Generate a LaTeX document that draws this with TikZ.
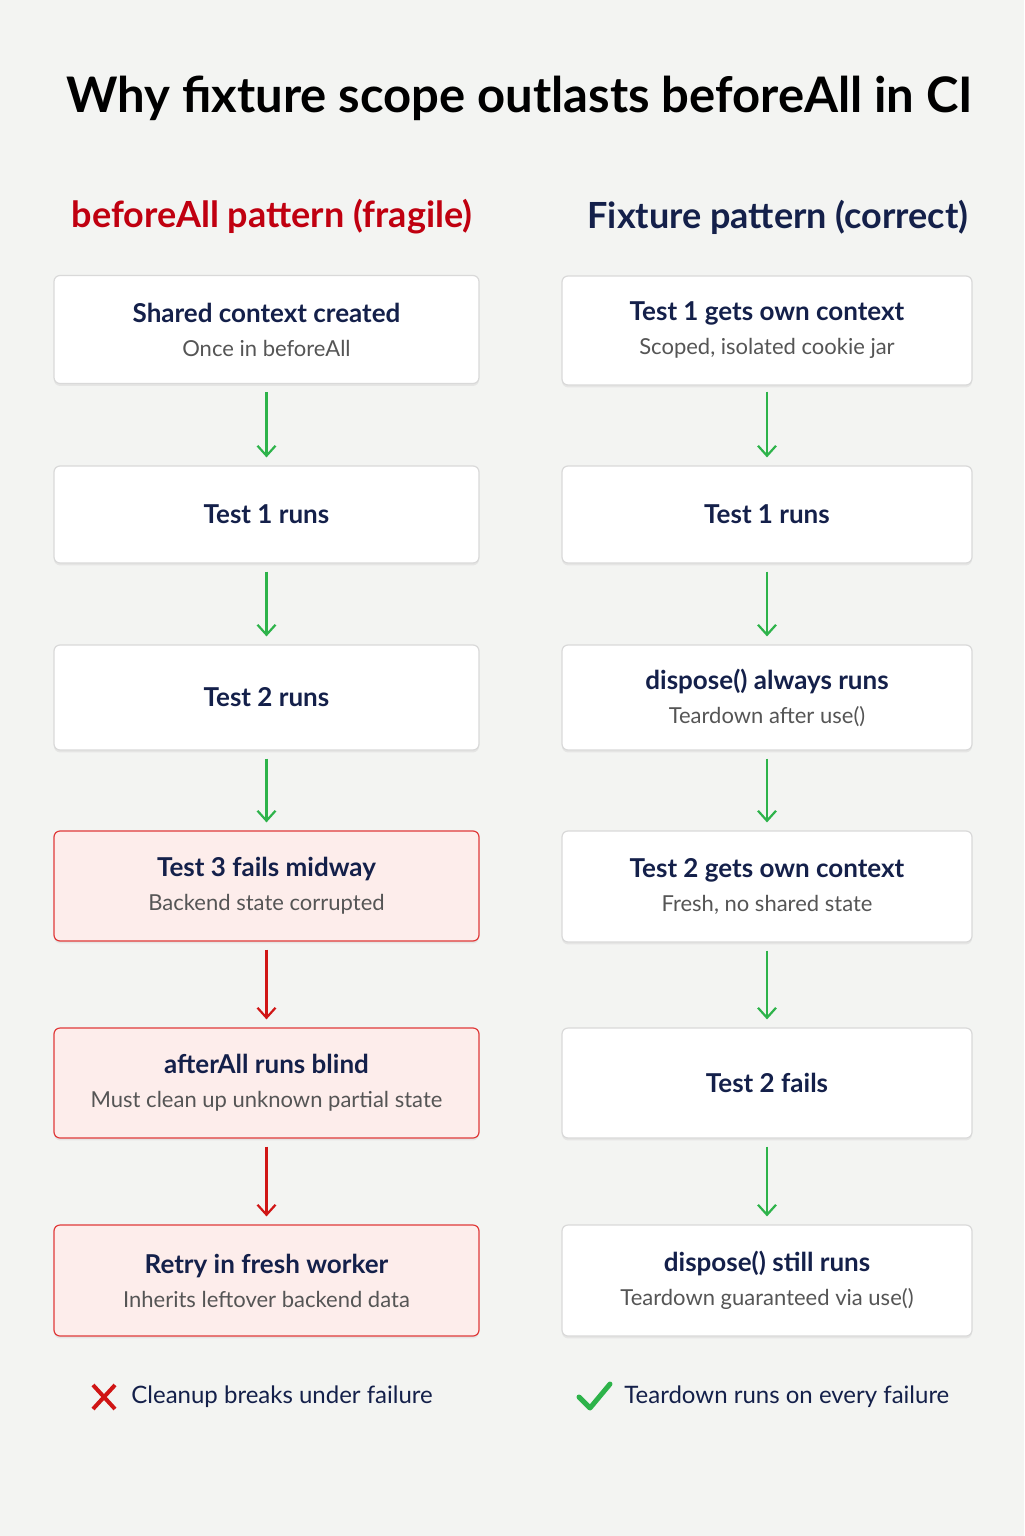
\documentclass[tikz,border=0pt]{standalone}
\usepackage{fontspec}
\setmainfont{Lato}
\usetikzlibrary{shadows,arrows.meta}
\definecolor{navy}{HTML}{14204A}
\definecolor{sub}{HTML}{555555}
\definecolor{redh}{HTML}{C00010}
\definecolor{redb}{HTML}{E03A3A}
\definecolor{redf}{HTML}{FDEDEB}
\definecolor{grn}{HTML}{2DB34A}
\definecolor{arrR}{HTML}{D01515}
\definecolor{bg}{HTML}{F3F4F2}
\tikzset{
 box/.style={draw=black!15, fill=white, rounded corners=3pt, line width=0.6pt, align=center, text=navy,
   drop shadow={shadow xshift=0pt, shadow yshift=-1.2pt, opacity=0.12}},
 bad/.style={box, draw=redb, fill=redf},
 ga/.style={-{Straight Barb[length=5pt,width=9pt]}, draw=grn, line width=1.1pt},
 ra/.style={-{Straight Barb[length=5pt,width=9pt]}, draw=arrR, line width=1.1pt},
}
\newcommand{\bt}[1]{{\fontsize{13}{15}\selectfont\bfseries #1}}
\newcommand{\bs}[1]{{\fontsize{11}{13}\selectfont\color{sub}#1}}
\begin{document}
\begin{tikzpicture}[x=0.5pt,y=-0.5pt]
\fill[bg] (0,0) rectangle (1024,1536);
\useasboundingbox (0,0) rectangle (1024,1536);
\node[anchor=west, inner sep=0pt, font=\fontsize{24.5}{28}\selectfont\bfseries] (title) at (66,98) {Why fixture scope outlasts beforeAll in CI};
\node[font=\fontsize{18}{22}\selectfont\bfseries, text=redh] (hl) at (272,217) {beforeAll pattern (fragile)};
\node[font=\fontsize{18}{22}\selectfont\bfseries, text=navy] (hr) at (778,217) {Fixture pattern (correct)};
% left column
\node[box, minimum width=212.5pt, minimum height=54pt] (l1) at (266.5,329.5) {\bt{Shared context created}\\[5pt]\bs{Once in beforeAll}};
\node[box, minimum width=212.5pt, minimum height=48.5pt] (l2) at (266.5,514.5) {\bt{Test 1 runs}};
\node[box, minimum width=212.5pt, minimum height=52.5pt] (l3) at (266.5,697.5) {\bt{Test 2 runs}};
\node[bad, minimum width=212.5pt, minimum height=55pt] (l4) at (266.5,886) {\bt{Test 3 fails midway}\\[5pt]\bs{Backend state corrupted}};
\node[bad, minimum width=212.5pt, minimum height=55pt] (l5) at (266.5,1083) {\bt{afterAll runs blind}\\[5pt]\bs{Must clean up unknown partial state}};
\node[bad, minimum width=212.5pt, minimum height=55.5pt] (l6) at (266.5,1280.5) {\bt{Retry in fresh worker}\\[5pt]\bs{Inherits leftover backend data}};
% right column
\node[box, minimum width=205pt, minimum height=54.5pt] (r1) at (767,330.5) {\bt{Test 1 gets own context}\\[5pt]\bs{Scoped, isolated cookie jar}};
\node[box, minimum width=205pt, minimum height=48.5pt] (r2) at (767,514.5) {\bt{Test 1 runs}};
\node[box, minimum width=205pt, minimum height=52.5pt] (r3) at (767,697.5) {\bt{dispose() always runs}\\[5pt]\bs{Teardown after use()}};
\node[box, minimum width=205pt, minimum height=55.5pt] (r4) at (767,886.5) {\bt{Test 2 gets own context}\\[5pt]\bs{Fresh, no shared state}};
\node[box, minimum width=205pt, minimum height=55pt] (r5) at (767,1083) {\bt{Test 2 fails}};
\node[box, minimum width=205pt, minimum height=55.5pt] (r6) at (767,1280.5) {\bt{dispose() still runs}\\[5pt]\bs{Teardown guaranteed via use()}};
% arrows
\draw[ga] ([yshift=-4pt]l1.south) -- ([yshift=4pt]l2.north);
\draw[ga] ([yshift=-4pt]l2.south) -- ([yshift=4pt]l3.north);
\draw[ga] ([yshift=-4pt]l3.south) -- ([yshift=4pt]l4.north);
\draw[ra] ([yshift=-4pt]l4.south) -- ([yshift=4pt]l5.north);
\draw[ra] ([yshift=-4pt]l5.south) -- ([yshift=4pt]l6.north);
\draw[ga] ([yshift=-3pt]r1.south) -- ([yshift=4pt]r2.north);
\draw[ga] ([yshift=-4pt]r2.south) -- ([yshift=4pt]r3.north);
\draw[ga] ([yshift=-4pt]r3.south) -- ([yshift=4pt]r4.north);
\draw[ga] ([yshift=-4pt]r4.south) -- ([yshift=4pt]r5.north);
\draw[ga] ([yshift=-4pt]r5.south) -- ([yshift=4pt]r6.north);
% footer
\coordinate (xc) at (104,1397);
\draw[arrR, line width=2pt] ([shift={(-11,-12)}]xc) -- ([shift={(11,12)}]xc) ([shift={(-11,12)}]xc) -- ([shift={(11,-12)}]xc);
\node[anchor=west, inner sep=0pt, font=\fontsize{12}{14}\selectfont, text=navy] (fl) at (131,1397) {Cleanup breaks under failure};
\coordinate (cc) at (594,1397);
\draw[grn, line width=2.5pt, line cap=round, line join=round] ([shift={(-15,0)}]cc) -- ([shift={(-4,11)}]cc) -- ([shift={(16,-13)}]cc);
\node[anchor=west, inner sep=0pt, font=\fontsize{12}{14}\selectfont, text=navy] (fr) at (624,1397) {Teardown runs on every failure};
\end{tikzpicture}
\end{document}
